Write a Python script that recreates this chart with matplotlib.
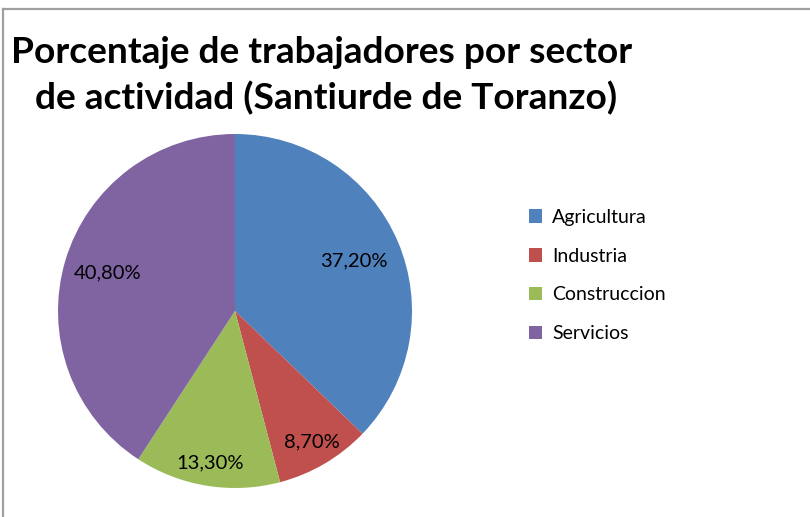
import matplotlib
matplotlib.use("Agg")
import matplotlib.pyplot as plt
from matplotlib.patches import Patch
from matplotlib.lines import Line2D
import numpy as np

categories = ["Agricultura", "Industria", "Construccion", "Servicios"]
values = [37.2, 8.7, 13.3, 40.8]
value_labels = ["37,20%", "8,70%", "13,30%", "40,80%"]
colors = ["#4F81BD", "#C0504D", "#9BBB59", "#8064A2"]
label_dist = [0.73, 0.86, 0.87, 0.75]
title_lines = ["Porcentaje de trabajadores por sector", " de actividad (Santiurde de Toranzo)"]

plt.rcParams['font.family'] = ['Lato', 'DejaVu Sans']

W, H = 810, 517
fig = plt.figure(figsize=(W / 100, H / 100), dpi=100)

cx, cy, r = 235, 311, 177
ax = fig.add_axes([(cx - r) / W, (H - cy - r) / H, 2 * r / W, 2 * r / H])
wedges, _ = ax.pie(values, colors=colors, startangle=90, counterclock=False,
                   radius=1, wedgeprops=dict(linewidth=0))
for w, lab, d in zip(wedges, value_labels, label_dist):
    ang = np.deg2rad((w.theta1 + w.theta2) / 2)
    ax.text(d * np.cos(ang), d * np.sin(ang), lab, ha='center', va='center',
            fontsize=14.5, color='black')
ax.set_xlim(-1, 1)
ax.set_ylim(-1, 1)
ax.set_aspect('equal')
ax.axis('off')

for line, base_y in zip(title_lines, [63, 109]):
    fig.text(322 / W, 1 - base_y / H, line, ha='center', va='baseline',
             fontsize=26.7, fontweight='bold')

handles = [Patch(facecolor=c, edgecolor='none') for c in colors]
fig.legend(handles, categories, loc='upper left', bbox_to_anchor=(521 / W, 1 - 201 / H),
           frameon=False, fontsize=14, handlelength=0.7, handleheight=0.7,
           handletextpad=0.5, labelspacing=1.12, borderaxespad=0)

fig.add_artist(Line2D([3 / W, 1], [1 - 9 / H, 1 - 9 / H], color='#A0A0A0', lw=1.6))
fig.add_artist(Line2D([3 / W, 3 / W], [0, 1 - 9 / H], color='#A0A0A0', lw=1.6))

fig.savefig("out.png", dpi=100, facecolor='white')
